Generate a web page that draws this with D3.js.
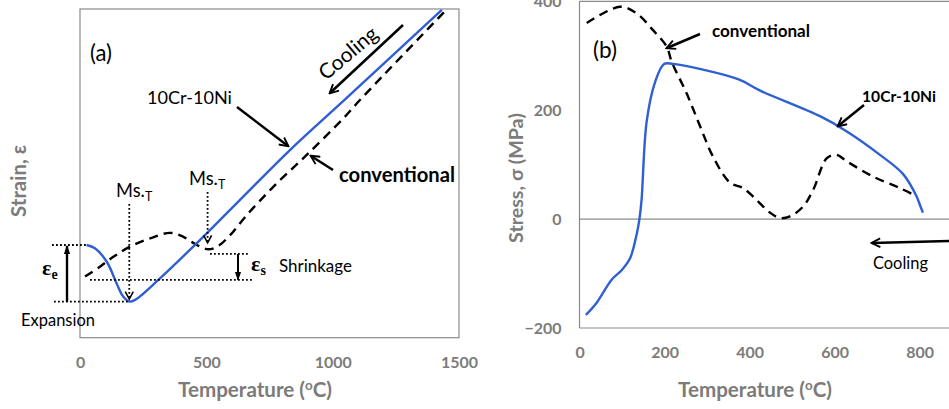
<!DOCTYPE html>
<html>
<head>
<meta charset="utf-8">
<script src="https://cdn.jsdelivr.net/npm/d3@7"></script>
<style>
  html, body { margin: 0; padding: 0; background: #fff; }
  svg { display: block; font-family: Lato, "Open Sans", sans-serif; }
</style>
</head>
<body>
<svg id="chart" width="949" height="409"></svg>
<script>
// ---------- Panel (a): strain vs temperature (arbitrary strain units) ----------
const tempTicksA = [0, 500, 1000, 1500];
const blueA_T = [26, 59, 106, 145, 171, 195, 218, 310, 448, 594, 831, 1049, 1432];
const blueA_S = [28.2, 27.2, 23.1, 16.5, 12.5, 11.0, 11.5, 17.6, 27.7, 38.9, 57.1, 72.5, 99.7];
const dashA_T = [20, 79, 132, 198, 277, 356, 409, 462, 508, 547, 594, 660, 765, 897, 1042, 1108, 1453];
const dashA_S = [18.6, 21.6, 24.6, 27.7, 30.2, 31.9, 30.7, 28.2, 26.9, 27.9, 31.2, 37.3, 45.9, 55.6, 66.7, 72.3, 100];

// ---------- Panel (b): stress vs temperature ----------
const tempTicksB = [0, 200, 400, 600, 800];
const stressTicksB = [-200, 0, 200, 400];
const blueB_T = [15, 40, 76, 99, 119, 135, 141, 146, 158, 178, 199, 220, 373, 425, 566, 629, 707, 761, 793, 801, 808];
const blueB_S = [-176, -154, -111, -94, -72, -26, 0, 35, 179, 252, 285, 285, 257, 236, 189, 161, 118, 83, 42, 26, 12];
const dashB_T = [17, 95, 134, 173, 205, 217, 252, 284, 314, 354, 385, 417, 448, 472, 495, 526, 550, 582, 605, 629, 691, 754, 793];
const dashB_S = [360, 390, 378, 347, 317, 289, 231, 170, 115, 67, 57, 35, 12, 2, 5, 23, 54, 112, 118, 106, 78, 57, 42];

const svg = d3.select("#chart");
const BLUE = "#2f5fd3";
const GRAY = "#7b7b7b";
const AXIS = "#8a8a8a";

// scale a text's font-size so that its rendered width matches the reference
function fit(sel, targetW) {
  const w = sel.node().getBBox().width;
  const fs = parseFloat(sel.attr("font-size"));
  if (w > 0) sel.attr("font-size", (fs * targetW / w).toFixed(2));
  return sel;
}

const defs = svg.append("defs");
function addMarker(id, filled) {
  const m = defs.append("marker").attr("id", id)
    .attr("viewBox", "0 0 10 10").attr("refX", filled ? 9 : 8.5).attr("refY", 5)
    .attr("markerWidth", filled ? 9 : 11).attr("markerHeight", filled ? 9 : 11)
    .attr("markerUnits", "userSpaceOnUse").attr("orient", "auto");
  if (filled) m.append("path").attr("d", "M0,1.5 L10,5 L0,8.5 Z").attr("fill", "#000");
  else m.append("path").attr("d", "M1,1 L9,5 L1,9").attr("fill", "none").attr("stroke", "#000").attr("stroke-width", 1.7);
}
addMarker("openArrow", false);
addMarker("fillArrow", true);

function arrow(g, x1, y1, x2, y2, opts = {}) {
  return g.append("line").attr("x1", x1).attr("y1", y1).attr("x2", x2).attr("y2", y2)
    .attr("stroke", "#000").attr("stroke-width", opts.w || 2.5)
    .attr("marker-end", `url(#${opts.marker || "openArrow"})`);
}
function dotted(g, x1, y1, x2, y2) {
  return g.append("line").attr("x1", x1).attr("y1", y1).attr("x2", x2).attr("y2", y2)
    .attr("stroke", "#000").attr("stroke-width", 1.8).attr("stroke-dasharray", "1.8,2.2");
}
function tempTitle(g, cx) {
  const t = g.append("text").attr("x", cx).attr("y", 397).attr("text-anchor", "middle")
    .attr("font-size", 18).attr("font-weight", "bold").attr("fill", GRAY);
  t.append("tspan").text("Temperature (");
  t.append("tspan").attr("font-size", "0.65em").attr("dy", "-0.55em").text("o");
  t.append("tspan").attr("dy", "0.36em").text("C)");
  return fit(t, 154);
}

// ================= Panel (a) =================
const xA = d3.scaleLinear().domain([0, 1500]).range([80, 459]);
const yA = d3.scaleLinear().domain([0, 100]).range([337.7, 9]);
const gA = svg.append("g");

defs.append("clipPath").attr("id", "clipA").append("rect")
  .attr("x", xA(0)).attr("y", yA(100)).attr("width", xA(1500) - xA(0)).attr("height", yA(0) - yA(100));

gA.append("rect").attr("x", xA(0)).attr("y", yA(100))
  .attr("width", xA(1500) - xA(0)).attr("height", yA(0) - yA(100))
  .attr("fill", "none").attr("stroke", AXIS).attr("stroke-width", 1.2);

const axA = gA.append("g").attr("transform", `translate(0,${yA(0)})`)
  .call(d3.axisBottom(xA).tickValues(tempTicksA).tickSize(0).tickPadding(19).tickFormat(d3.format("d")));
axA.select(".domain").remove();

const lineA = d3.line().x(d => xA(d[0])).y(d => yA(d[1])).curve(d3.curveCatmullRom.alpha(0.5));
const plotA = gA.append("g").attr("clip-path", "url(#clipA)");
plotA.append("path").datum(d3.zip(dashA_T, dashA_S)).attr("d", lineA)
  .attr("fill", "none").attr("stroke", "#000").attr("stroke-width", 2.4).attr("stroke-dasharray", "9,6");
plotA.append("path").datum(d3.zip(blueA_T, blueA_S)).attr("d", lineA)
  .attr("fill", "none").attr("stroke", BLUE).attr("stroke-width", 2.4);

// annotations (a)
fit(gA.append("text").attr("x", 90).attr("y", 61).attr("font-size", 18).text("(a)"), 22);
fit(gA.append("text").attr("x", 147).attr("y", 104).attr("font-size", 18).text("10Cr-10Ni"), 85);
arrow(gA, 237, 107, 288, 146);
fit(gA.append("text").attr("x", 339).attr("y", 182).attr("font-size", 18).attr("font-weight", "bold").text("conventional"), 116);
arrow(gA, 333, 170, 311, 156);
// Cooling
arrow(gA, 403, 25, 330, 93);
fit(gA.append("text").attr("transform", "translate(348,53) rotate(-40)")
  .attr("text-anchor", "middle").attr("dy", "0.35em").attr("font-size", 17).text("Cooling"), 70);

// Ms markers
function msLabel(x, y) {
  const t = gA.append("text").attr("x", x).attr("y", y).attr("font-size", 18);
  t.append("tspan").text("Ms.");
  t.append("tspan").attr("font-size", "0.68em").attr("dy", "0.3em").text("T");
  return fit(t, 37);
}
msLabel(116, 197);
msLabel(189, 185);
dotted(gA, xA(195), 204, xA(195), yA(11.6));
gA.append("path").attr("d", `M${xA(195) - 4},${yA(11.6) - 8} L${xA(195)},${yA(11.6) - 0.5} L${xA(195) + 4},${yA(11.6) - 8}`)
  .attr("fill", "none").attr("stroke", "#000").attr("stroke-width", 1.6);
dotted(gA, xA(505), 192, xA(505), yA(28.7));
gA.append("path").attr("d", `M${xA(505) - 4},${yA(28.7) - 8} L${xA(505)},${yA(28.7) - 0.5} L${xA(505) + 4},${yA(28.7) - 8}`)
  .attr("fill", "none").attr("stroke", "#000").attr("stroke-width", 1.6);

// horizontal dotted reference lines
dotted(gA, 52, yA(28.2), xA(26), yA(28.2));
dotted(gA, 54, yA(11.0), xA(195), yA(11.0));
dotted(gA, 90, yA(17.6), 253, yA(17.6));
dotted(gA, 210, yA(25.5), 250, yA(25.5));

// εe arrow
arrow(gA, 67, yA(11.0), 67, yA(28.2) + 1, { marker: "fillArrow", w: 2.4 });
const te = gA.append("text").attr("x", 42).attr("y", 275).attr("font-size", 22).attr("font-weight", "bold")
  .attr("font-family", "'Liberation Serif', 'DejaVu Serif', serif");
te.append("tspan").text("ε");
te.append("tspan").attr("font-size", 14).attr("dy", 4).text("e");
// εs arrow
arrow(gA, 238, yA(25.5), 238, yA(17.6), { marker: "fillArrow", w: 2 });
const ts = gA.append("text").attr("x", 251).attr("y", 271).attr("font-size", 22).attr("font-weight", "bold")
  .attr("font-family", "'Liberation Serif', 'DejaVu Serif', serif");
ts.append("tspan").text("ε");
ts.append("tspan").attr("font-size", 14).attr("dy", 4).text("s");
fit(gA.append("text").attr("x", 279).attr("y", 272).attr("font-size", 17).text("Shrinkage"), 73);
fit(gA.append("text").attr("x", 21).attr("y", 326).attr("font-size", 17).text("Expansion"), 74);

// axis titles (a)
tempTitle(gA, 255);
fit(gA.append("text").attr("transform", "translate(26,181) rotate(-90)").attr("text-anchor", "middle")
  .attr("font-size", 18).attr("font-weight", "bold").attr("fill", GRAY).text("Strain, ε"), 72);

// ================= Panel (b) =================
const xB = d3.scaleLinear().domain([0, 800]).range([579.5, 919.5]);
const yB = d3.scaleLinear().domain([-200, 400]).range([328, 1.3]);
const gB = svg.append("g");

// frame: left, top, bottom; zero line
gB.append("line").attr("x1", xB(0)).attr("x2", xB(0)).attr("y1", yB(400)).attr("y2", yB(-200)).attr("stroke", AXIS).attr("stroke-width", 1.2);
gB.append("line").attr("x1", xB(0)).attr("x2", 949).attr("y1", yB(400)).attr("y2", yB(400)).attr("stroke", AXIS).attr("stroke-width", 1.2);
gB.append("line").attr("x1", xB(0)).attr("x2", 949).attr("y1", yB(-200)).attr("y2", yB(-200)).attr("stroke", AXIS).attr("stroke-width", 1.2);
gB.append("line").attr("x1", xB(0)).attr("x2", 949).attr("y1", yB(0)).attr("y2", yB(0)).attr("stroke", "#6e6e6e").attr("stroke-width", 1);

const axBx = gB.append("g").attr("transform", `translate(0,${yB(-200)})`)
  .call(d3.axisBottom(xB).tickValues(tempTicksB).tickSize(0).tickPadding(19).tickFormat(d3.format("d")));
axBx.select(".domain").remove();
const axBy = gB.append("g").attr("transform", `translate(${xB(0)},0)`)
  .call(d3.axisLeft(yB).tickValues(stressTicksB).tickSize(0).tickPadding(18).tickFormat(d3.format("d")));
axBy.select(".domain").remove();

// tick label styling, sized so "1000" matches the reference width
const allTicks = svg.selectAll(".tick text").attr("font-size", 16).attr("font-weight", "bold")
  .attr("fill", GRAY).attr("font-family", "Lato, sans-serif");
const t1000 = axA.selectAll(".tick text").filter(d => d === 1000);
const tickFs = 16 * 37 / t1000.node().getBBox().width;
allTicks.attr("font-size", tickFs.toFixed(2));

const lineB = d3.line().x(d => xB(d[0])).y(d => yB(d[1])).curve(d3.curveCatmullRom.alpha(0.5));
gB.append("path").datum(d3.zip(dashB_T, dashB_S)).attr("d", lineB)
  .attr("fill", "none").attr("stroke", "#000").attr("stroke-width", 2.4).attr("stroke-dasharray", "9,6");
gB.append("path").datum(d3.zip(blueB_T, blueB_S)).attr("d", lineB)
  .attr("fill", "none").attr("stroke", BLUE).attr("stroke-width", 2.4);

fit(gB.append("text").attr("x", 593).attr("y", 58).attr("font-size", 18).text("(b)"), 24);
fit(gB.append("text").attr("x", 712).attr("y", 37).attr("font-size", 16).attr("font-weight", "bold").text("conventional"), 98);
arrow(gB, 700, 34, 667, 48);
fit(gB.append("text").attr("x", 862).attr("y", 102).attr("font-size", 16).attr("font-weight", "bold").text("10Cr-10Ni"), 74);
arrow(gB, 864, 105, 838, 126);
arrow(gB, 952, 241, 872, 243);
fit(gB.append("text").attr("x", 873).attr("y", 269).attr("font-size", 16).text("Cooling"), 55);

tempTitle(gB, 755);
fit(gB.append("text").attr("transform", "translate(523,178) rotate(-90)").attr("text-anchor", "middle")
  .attr("font-size", 18).attr("font-weight", "bold").attr("fill", GRAY).text("Stress, σ (MPa)"), 130);
</script>
</body>
</html>
